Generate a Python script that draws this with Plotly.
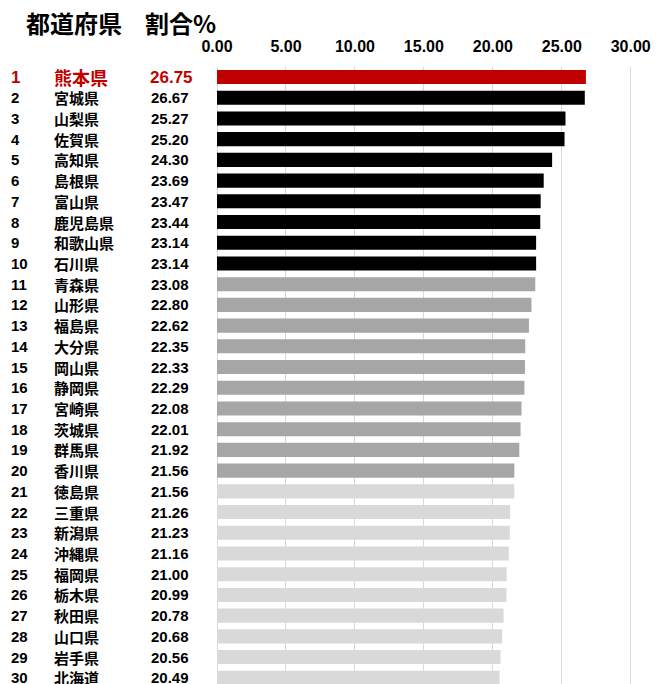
import plotly.graph_objects as go

ranks = list(range(1, 31))
prefectures = ["熊本県", "宮城県", "山梨県", "佐賀県", "高知県", "島根県", "富山県", "鹿児島県", "和歌山県", "石川県",
               "青森県", "山形県", "福島県", "大分県", "岡山県", "静岡県", "宮崎県", "茨城県", "群馬県", "香川県",
               "徳島県", "三重県", "新潟県", "沖縄県", "福岡県", "栃木県", "秋田県", "山口県", "岩手県", "北海道"]
values = [26.75, 26.67, 25.27, 25.20, 24.30, 23.69, 23.47, 23.44, 23.14, 23.14,
          23.08, 22.80, 22.62, 22.35, 22.33, 22.29, 22.08, 22.01, 21.92, 21.56,
          21.56, 21.26, 21.23, 21.16, 21.00, 20.99, 20.78, 20.68, 20.56, 20.49]
tick_vals = [0, 5, 10, 15, 20, 25, 30]
tick_text = ["0.00", "5.00", "10.00", "15.00", "20.00", "25.00", "30.00"]

RED, BLACK, GRAY, LIGHT = "#C00000", "#000000", "#A6A6A6", "#D9D9D9"

def bar_color(r):
    if r == 1:
        return RED
    if r <= 10:
        return BLACK
    if r <= 20:
        return GRAY
    return LIGHT

colors = [bar_color(r) for r in ranks]
idx = list(range(len(ranks)))

fig = go.Figure(go.Bar(
    x=values, y=idx, orientation="h", width=0.68,
    marker=dict(color=colors, line=dict(width=0)),
    hoverinfo="skip",
))

LATIN = "Liberation Sans, Arial, sans-serif"
CJK = "Noto Sans CJK JP, sans-serif"
PLOT_LEFT = 217

annotations = []
for i, (r, p, v) in enumerate(zip(ranks, prefectures, values)):
    first = (r == 1)
    col = RED if first else BLACK
    annotations.append(dict(xref="paper", yref="y", x=0, y=i, xshift=9 - PLOT_LEFT,
                            xanchor="left", yanchor="middle", showarrow=False,
                            text=f"<b>{r}</b>", font=dict(family=LATIN, size=17 if first else 15, color=col)))
    annotations.append(dict(xref="paper", yref="y", x=0, y=i, xshift=52 - PLOT_LEFT,
                            xanchor="left", yanchor="middle", showarrow=False,
                            text=f"<b>{p}</b>", font=dict(family=CJK, size=18 if first else 15, color=col)))
    annotations.append(dict(xref="paper", yref="y", x=0, y=i, xshift=(195 if first else 191) - PLOT_LEFT,
                            xanchor="right", yanchor="middle", showarrow=False,
                            text=f"<b>{v:.2f}</b>", font=dict(family=LATIN, size=17 if first else 15, color=col)))

annotations.append(dict(xref="paper", yref="paper", x=0, y=1, xshift=24 - PLOT_LEFT, yshift=45,
                        xanchor="left", yanchor="middle", showarrow=False,
                        text="<b>都道府県</b>", font=dict(family=CJK, size=24, color=BLACK)))
annotations.append(dict(xref="paper", yref="paper", x=0, y=1, xshift=143 - PLOT_LEFT, yshift=45,
                        xanchor="left", yanchor="middle", showarrow=False,
                        text="<b>割合%</b>", font=dict(family=CJK, size=24, color=BLACK)))

fig.update_layout(
    width=656, height=684,
    margin=dict(l=PLOT_LEFT, r=17, t=67, b=0),
    paper_bgcolor="white", plot_bgcolor="white",
    showlegend=False,
    bargap=0.32,
    annotations=annotations,
    xaxis=dict(side="top", range=[0, 30.6], tickvals=tick_vals,
               ticktext=[f"<b>{t}</b>" for t in tick_text],
               showgrid=True, gridcolor="#D9D9D9", gridwidth=1,
               zeroline=True, zerolinecolor="#D9D9D9", zerolinewidth=1,
               showline=False, ticks="", ticklabelstandoff=11,
               tickfont=dict(family=LATIN, size=16, color=BLACK), fixedrange=True),
    yaxis=dict(range=[29.3, -0.483], showticklabels=False, showgrid=False,
               zeroline=False, showline=False, ticks="", fixedrange=True),
)

fig.write_html("out.html")
